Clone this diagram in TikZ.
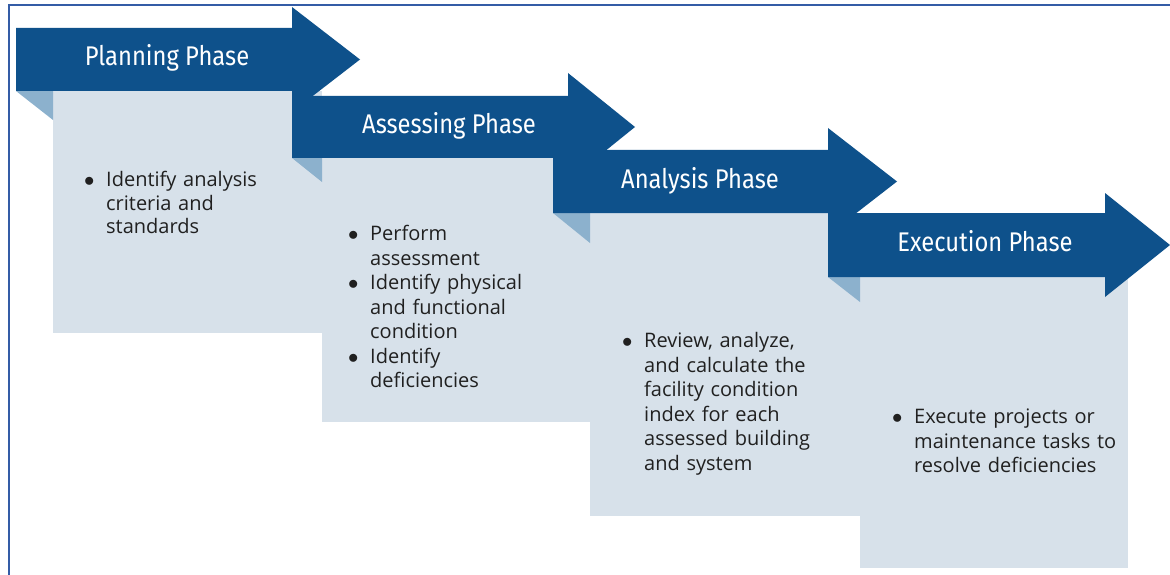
\documentclass[tikz,border=0pt]{standalone}
\usepackage{fontspec}
\setmainfont{Open Sans}
\newfontfamily\headfont[FakeStretch=0.88]{Fira Sans}
\usetikzlibrary{positioning}
\definecolor{phaseblue}{RGB}{14,81,139}
\definecolor{foldblue}{RGB}{140,177,205}
\definecolor{cardblue}{RGB}{215,225,234}
\definecolor{frameblue}{RGB}{52,92,166}
\definecolor{textgray}{RGB}{32,32,32}
\tikzset{card/.style = {fill=cardblue},
  fold/.style = {fill=foldblue},
  phasebar/.style = {fill=phaseblue},
  title/.style = {anchor=base, text=white, font=\headfont\fontsize{27}{30}\selectfont},
  items/.style = {anchor=north west, inner sep=0, text width=240pt, align=left,
    text=textgray, font=\fontsize{20}{24.5}\selectfont}}
% one bullet, the wrapped lines hang under the text
\newcommand{\phaseitem}[1]{\par\noindent\hangindent=22pt\hangafter=1\makebox[22pt][l]{$\bullet$}#1\par}

\begin{document}
\begin{tikzpicture}[x=1pt, y=-1pt]
      \useasboundingbox (0,0) rectangle (1170,575);
      \draw [line width=2pt, frameblue] (1170,5) -- (9,5) -- (9,575);

      % cards and folds first, the ribbons go on top
      \foreach \xa/\yb/\fw/\fh/\xc/\yc in {16/91/37/29/322/333, 292/158/30/24/591/422, 553/213/37/30/860/516, 828/277/32/25/1128/568} {
        \fill [card] (\xa+\fw, \yb) rectangle (\xc, \yc);
        \fill [fold] (\xa, \yb) -- (\xa+\fw, \yb) -- (\xa+\fw, \yb+\fh) -- cycle;
      }

      % ribbons with heads, each one covers the head before it
      \foreach \xa/\yt/\yb/\xh/\xt/\yh/\xl/\lbl [count=\i] in {16/28/91/292/360/7/167/Planning Phase, 292/96/158/568/635/73/449/Assessing Phase, 553/150/213/828/897/128/700/Analysis Phase, 828/213/277/1105/1170/193/985/Execution Phase} {
        \pgfmathsetmacro\ym{(\yt + \yb) / 2}
        \fill [phasebar] (\xa, \yt) -- (\xh, \yt) -- (\xh, \yh) -- (\xt, \ym) -- (\xh, 2*\ym - \yh) -- (\xh, \yb) -- (\xa, \yb) -- cycle;
        \node [title] (title\i) at (\xl, \ym + 6.5) {\lbl};
      }

      \node [items, font=\fontsize{20}{23.5}\selectfont] (planning) at (84, 163) {\phaseitem{Identify analysis\newline criteria and\newline standards}};
      \node [items] (assessing) at (348, 216) {\phaseitem{Perform\newline assessment}
        \phaseitem{Identify physical\newline and functional\newline condition}
        \phaseitem{Identify\newline deficiencies}};
      \node [items] (analysis) at (622, 323) {\phaseitem{Review, analyze,\newline and calculate the\newline facility condition\newline index for each\newline assessed building\newline and system}};
      \node [items] (execution) at (892, 399) {\phaseitem{Execute projects or\newline maintenance tasks to\newline resolve deficiencies}};
    \end{tikzpicture}
\end{document}
